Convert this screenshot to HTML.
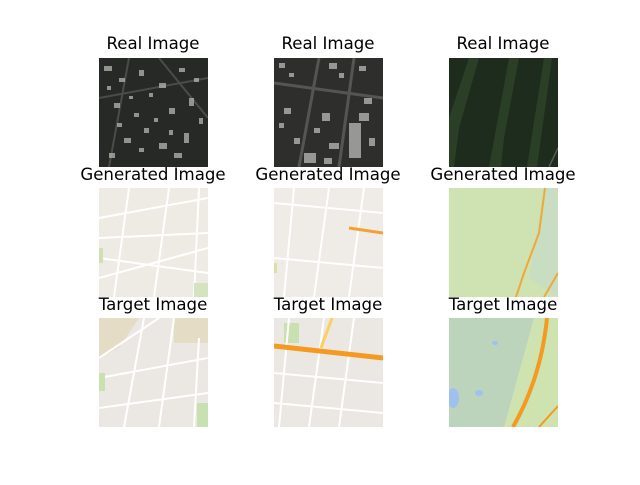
<!DOCTYPE html>
<html><head><meta charset="utf-8"><style>
body{margin:0;background:#fff}
text{font-family:"DejaVu Sans","Liberation Sans",sans-serif;font-size:16.6px;fill:#000}
</style></head><body>
<svg width="640" height="480" xmlns="http://www.w3.org/2000/svg">
<defs>
<clipPath id="c"><rect x="0" y="0" width="109" height="109"/></clipPath>
</defs>
<g text-anchor="middle">
<text x="153" y="49">Real Image</text>
<text x="328" y="49">Real Image</text>
<text x="503" y="49">Real Image</text>
<text x="153" y="180">Generated Image</text>
<text x="328" y="180">Generated Image</text>
<text x="503" y="180">Generated Image</text>
<text x="153" y="310">Target Image</text>
<text x="328" y="310">Target Image</text>
<text x="503" y="310">Target Image</text>
</g>

<!-- Real 1 -->
<g transform="translate(99,58)" clip-path="url(#c)">
<rect width="109" height="109" fill="#262925"/>
<g stroke="#4a4c48" stroke-width="2"><line x1="0" y1="40" x2="109" y2="20"/><line x1="30" y1="0" x2="10" y2="109"/><line x1="60" y1="0" x2="109" y2="60"/></g>
<g fill="#b5b7b3" opacity="0.75">
<rect x="5" y="8" width="8" height="5"/><rect x="20" y="20" width="6" height="4"/><rect x="40" y="12" width="5" height="6"/>
<rect x="60" y="25" width="7" height="5"/><rect x="80" y="10" width="6" height="4"/><rect x="15" y="45" width="6" height="5"/>
<rect x="35" y="55" width="5" height="4"/><rect x="70" y="50" width="6" height="6"/><rect x="90" y="40" width="5" height="8"/>
<rect x="25" y="80" width="7" height="5"/><rect x="60" y="85" width="8" height="6"/><rect x="85" y="75" width="5" height="10"/>
<rect x="10" y="95" width="6" height="5"/><rect x="45" y="70" width="5" height="5"/><rect x="75" y="95" width="8" height="5"/>
<rect x="50" y="35" width="4" height="4"/><rect x="8" y="28" width="4" height="4"/><rect x="95" y="20" width="5" height="4"/>
<rect x="30" y="38" width="4" height="3"/><rect x="55" y="60" width="4" height="4"/><rect x="40" y="90" width="5" height="4"/>
<rect x="70" y="72" width="4" height="5"/><rect x="18" y="65" width="5" height="4"/><rect x="100" y="60" width="4" height="6"/>
</g>
</g>
<!-- Real 2 -->
<g transform="translate(274,58)" clip-path="url(#c)">
<rect width="109" height="109" fill="#2e2f2d"/>
<g stroke="#555652" stroke-width="3"><line x1="0" y1="25" x2="109" y2="40"/><line x1="25" y1="109" x2="45" y2="0"/><line x1="65" y1="109" x2="80" y2="0"/></g>
<g fill="#b2b3b0" opacity="0.8">
<rect x="5" y="5" width="6" height="5"/><rect x="55" y="5" width="8" height="6"/><rect x="85" y="8" width="7" height="5"/>
<rect x="10" y="50" width="7" height="6"/><rect x="48" y="55" width="8" height="8"/><rect x="85" y="55" width="10" height="8"/>
<rect x="20" y="80" width="6" height="6"/><rect x="55" y="85" width="10" height="6"/><rect x="75" y="65" width="12" height="35"/>
<rect x="30" y="95" width="12" height="10"/><rect x="90" y="40" width="8" height="6"/>
<rect x="15" y="15" width="5" height="4"/><rect x="65" y="15" width="5" height="5"/><rect x="5" y="65" width="5" height="5"/>
<rect x="40" y="70" width="6" height="5"/><rect x="95" y="80" width="6" height="8"/><rect x="50" y="100" width="8" height="6"/>
</g>
</g>
<!-- Real 3 -->
<g transform="translate(449,58)" clip-path="url(#c)">
<rect width="109" height="109" fill="#1e2c1d"/>
<g fill="#2c4228" opacity="0.9">
<path d="M0 60 L20 0 L30 0 L10 70 L5 109 L0 109 Z"/><path d="M40 109 L60 0 L70 0 L55 80 L52 109 Z"/><path d="M78 109 L95 0 L103 0 L88 109 Z"/>
</g>
<line x1="100" y1="109" x2="109" y2="90" stroke="#555a50" stroke-width="1.5"/>
</g>

<!-- Generated 1 -->
<g transform="translate(99,188)" clip-path="url(#c)">
<rect width="109" height="109" fill="#eeebe5"/>
<g stroke="#fff" stroke-width="2" fill="none">
<line x1="0" y1="30" x2="109" y2="10"/><line x1="0" y1="70" x2="109" y2="85"/><line x1="0" y1="90" x2="109" y2="60"/>
<line x1="30" y1="0" x2="15" y2="109"/><line x1="70" y1="0" x2="55" y2="109"/><line x1="100" y1="0" x2="95" y2="109"/>
<line x1="0" y1="50" x2="109" y2="45"/>
</g>
<rect x="0" y="60" width="4" height="15" fill="#cfe0b5"/><rect x="95" y="95" width="14" height="14" fill="#d5e3c0"/>
</g>
<!-- Generated 2 -->
<g transform="translate(274,188)" clip-path="url(#c)">
<rect width="109" height="109" fill="#efebe6"/>
<g stroke="#fff" stroke-width="2"><line x1="0" y1="15" x2="109" y2="25"/><line x1="0" y1="70" x2="109" y2="80"/>
<line x1="10" y1="109" x2="20" y2="0"/><line x1="40" y1="109" x2="55" y2="0"/><line x1="75" y1="109" x2="90" y2="0"/></g>
<line x1="75" y1="40" x2="109" y2="45" stroke="#f5a030" stroke-width="3"/>
<rect x="0" y="75" width="3" height="10" fill="#d8e0a8"/>
</g>
<!-- Generated 3 -->
<g transform="translate(449,188)" clip-path="url(#c)">
<rect width="109" height="109" fill="#cfe2b2"/>
<path d="M95 0 L109 0 L109 109 L80 90 Z" fill="#c4dcc8" opacity="0.7"/>
<path d="M96 0 L90 45 L75 85 L67 109" stroke="#f0a838" stroke-width="2" fill="none"/>
<line x1="95" y1="109" x2="109" y2="85" stroke="#f0a838" stroke-width="2"/>
</g>

<!-- Target 1 -->
<g transform="translate(99,318)" clip-path="url(#c)">
<rect width="109" height="109" fill="#ebe8e3"/>
<path d="M0 0 L40 0 L20 30 L0 40 Z" fill="#e5dcc5"/><rect x="75" y="0" width="34" height="25" fill="#e5dcc5"/>
<g stroke="#fff" stroke-width="2" fill="none">
<line x1="0" y1="40" x2="60" y2="0"/><line x1="0" y1="60" x2="109" y2="40"/><line x1="0" y1="90" x2="109" y2="75"/>
<line x1="45" y1="0" x2="25" y2="109"/><line x1="75" y1="0" x2="60" y2="109"/><line x1="100" y1="20" x2="95" y2="109"/>
</g>
<rect x="0" y="55" width="6" height="18" fill="#c9e0b0"/><rect x="98" y="85" width="11" height="24" fill="#c9e0b0"/>
</g>
<!-- Target 2 -->
<g transform="translate(274,318)" clip-path="url(#c)">
<rect width="109" height="109" fill="#ebe8e3"/>
<rect x="10" y="5" width="15" height="20" fill="#c9e0b0"/>
<g stroke="#fff" stroke-width="2"><line x1="0" y1="55" x2="109" y2="65"/><line x1="0" y1="85" x2="109" y2="95"/>
<line x1="5" y1="109" x2="15" y2="0"/><line x1="35" y1="109" x2="50" y2="0"/><line x1="65" y1="109" x2="80" y2="0"/></g>
<line x1="58" y1="0" x2="47" y2="30" stroke="#fcd060" stroke-width="3"/>
<line x1="0" y1="28" x2="109" y2="40" stroke="#f49a20" stroke-width="5"/>
</g>
<!-- Target 3 -->
<g transform="translate(449,318)" clip-path="url(#c)">
<rect width="109" height="109" fill="#bcd4bc"/>
<path d="M85 0 L109 0 L109 109 L55 109 Z" fill="#cfe3b0"/>
<ellipse cx="4" cy="80" rx="6" ry="10" fill="#9ec1f0"/><ellipse cx="30" cy="75" rx="4" ry="3" fill="#9ec1f0"/><ellipse cx="46" cy="25" rx="3" ry="2" fill="#9ec1f0"/>
<path d="M98 0 Q92 60 64 109" stroke="#f49a20" stroke-width="4" fill="none"/>
<line x1="90" y1="109" x2="109" y2="88" stroke="#f49a20" stroke-width="2"/>
</g>
</svg>
</body></html>
